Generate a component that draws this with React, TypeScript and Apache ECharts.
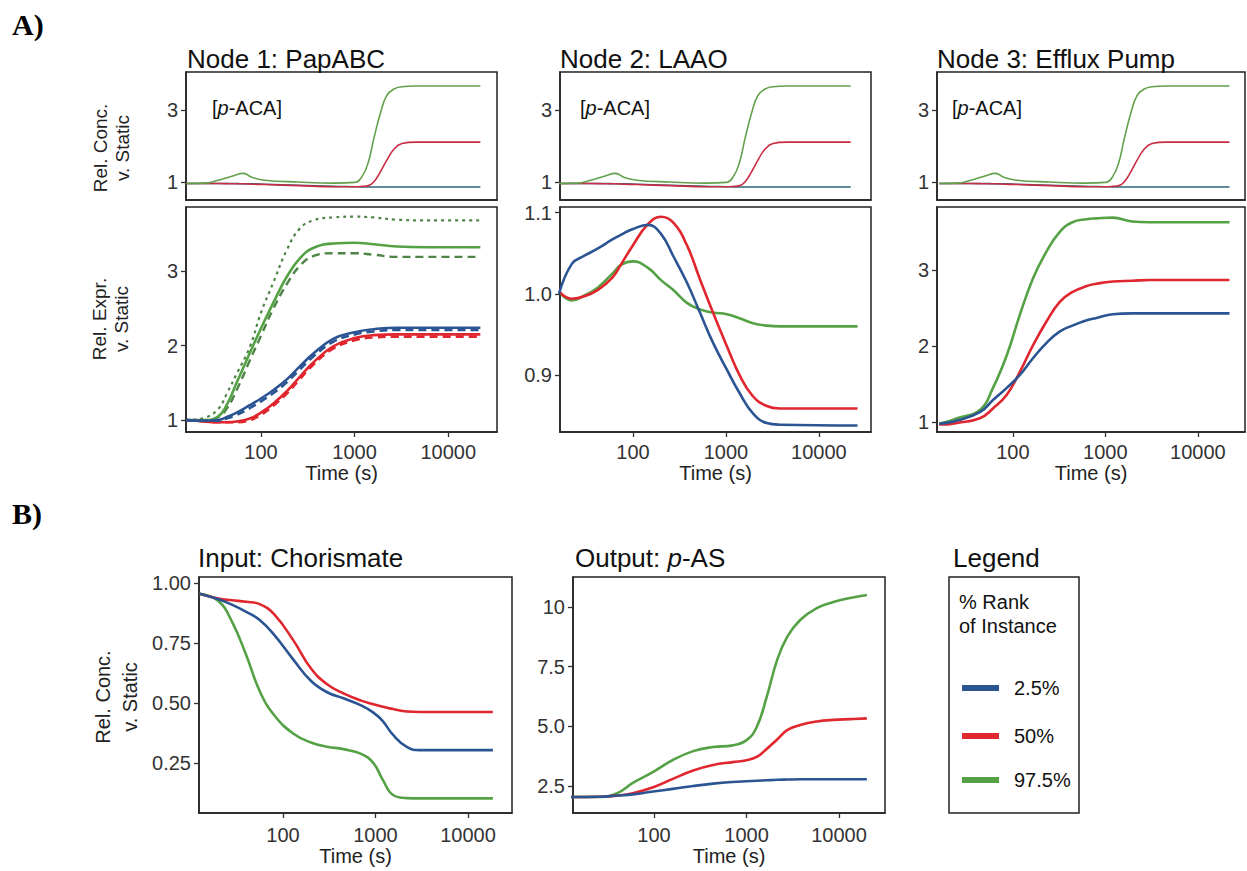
import React, { useEffect, useRef } from "react";
import * as echarts from "echarts";

const FONT = '"Liberation Sans", Arial, Helvetica, sans-serif';
const SERIF = '"Liberation Serif", "Times New Roman", serif';

const BLUE = "#2b5493";
const RED = "#e0262e";
const GREEN = "#55a145";
const GREEN_DASH = "#4f8447";
const TOP_BLUE = "#2f6678";
const TOP_RED = "#c92c45";
const TOP_GREEN = "#62a04c";

// x ticks (seconds)
const timeTicks = [100, 1000, 10000];

// [p-ACA] (same in all three nodes)
const acaTime = [16, 25, 35, 50, 65, 80, 110, 250, 600, 1000, 1200, 1400, 1600, 1900, 2200, 2600, 3200, 4500, 22000];
const acaLow = [0.96, 0.96, 0.96, 0.96, 0.95, 0.95, 0.94, 0.91, 0.88, 0.87, 0.865, 0.86, 0.86, 0.86, 0.86, 0.86, 0.86, 0.86, 0.86];
const acaMid = [0.96, 0.96, 0.96, 0.95, 0.95, 0.94, 0.93, 0.9, 0.87, 0.87, 0.88, 0.9, 1.0, 1.3, 1.6, 1.9, 2.07, 2.11, 2.11];
const acaHigh = [0.96, 0.97, 1.05, 1.17, 1.24, 1.13, 1.05, 1.0, 0.97, 0.99, 1.15, 1.55, 2.2, 2.95, 3.4, 3.58, 3.65, 3.67, 3.67];

// Node 1: PapABC
const papTime = [16, 25, 35, 43, 55, 76, 100, 135, 190, 260, 360, 590, 1000, 1600, 2800, 6000, 22000];
const papLow = [1.0, 0.99, 1.0, 1.04, 1.1, 1.2, 1.29, 1.4, 1.55, 1.72, 1.89, 2.09, 2.18, 2.22, 2.24, 2.24, 2.24];
const papLowDash = [1.0, 0.99, 0.99, 1.02, 1.07, 1.16, 1.25, 1.36, 1.51, 1.68, 1.85, 2.05, 2.15, 2.19, 2.21, 2.21, 2.21];
const papMid = [1.0, 0.98, 0.97, 0.97, 0.98, 1.02, 1.1, 1.22, 1.39, 1.58, 1.77, 1.99, 2.1, 2.14, 2.15, 2.15, 2.15];
const papMidDash = [1.0, 0.98, 0.97, 0.97, 0.97, 1.0, 1.07, 1.19, 1.36, 1.55, 1.74, 1.96, 2.07, 2.11, 2.12, 2.12, 2.12];
const papHigh = [1.0, 1.0, 1.05, 1.2, 1.5, 1.9, 2.23, 2.57, 2.93, 3.17, 3.31, 3.37, 3.38, 3.36, 3.33, 3.32, 3.32];
const papHighDot = [1.0, 1.03, 1.15, 1.35, 1.62, 1.98, 2.44, 2.84, 3.29, 3.57, 3.68, 3.72, 3.73, 3.72, 3.69, 3.68, 3.68];
const papHighDash = [1.0, 1.0, 1.04, 1.15, 1.4, 1.8, 2.13, 2.49, 2.83, 3.07, 3.2, 3.24, 3.24, 3.22, 3.19, 3.19, 3.19];

// Node 2: LAAO
const laaoTime = [16, 22, 30, 42, 60, 75, 100, 145, 200, 270, 380, 525, 725, 1020, 1400, 1950, 2750, 3800, 26000];
const laaoLow = [1.0, 1.037, 1.047, 1.056, 1.067, 1.073, 1.08, 1.085, 1.074, 1.047, 1.014, 0.977, 0.94, 0.907, 0.878, 0.853, 0.841, 0.839, 0.838];
const laaoMid = [1.003, 0.994, 0.997, 1.005, 1.02, 1.037, 1.06, 1.086, 1.095, 1.088, 1.06, 1.018, 0.977, 0.936, 0.9, 0.874, 0.862, 0.859, 0.859];
const laaoHigh = [1.003, 0.992, 0.998, 1.008, 1.025, 1.036, 1.04, 1.032, 1.017, 1.005, 0.989, 0.981, 0.977, 0.975, 0.97, 0.964, 0.961, 0.96, 0.96];

// Node 3: Efflux Pump
const effluxTime = [16, 19, 25, 44, 61, 86, 119, 165, 230, 320, 440, 630, 800, 1200, 1950, 3000, 22000];
const effluxLow = [0.98, 0.99, 1.02, 1.13, 1.29, 1.45, 1.62, 1.84, 2.04, 2.19, 2.27, 2.34, 2.37, 2.42, 2.43, 2.43, 2.43];
const effluxMid = [0.97, 0.97, 0.99, 1.05, 1.18, 1.36, 1.66, 2.01, 2.32, 2.58, 2.71, 2.79, 2.82, 2.85, 2.86, 2.87, 2.87];
const effluxHigh = [0.98, 1.0, 1.05, 1.16, 1.45, 1.88, 2.41, 2.89, 3.24, 3.5, 3.63, 3.67, 3.68, 3.69, 3.64, 3.63, 3.63];

// Input: Chorismate
const chorTime = [12.5, 20, 28, 40, 56, 80, 130, 200, 300, 450, 700, 950, 1200, 1550, 2200, 3000, 18600];
const chorLow = [0.955, 0.932, 0.91, 0.88, 0.846, 0.785, 0.68, 0.593, 0.545, 0.52, 0.49, 0.46, 0.425, 0.367, 0.316, 0.304, 0.304];
const chorMid = [0.955, 0.935, 0.928, 0.922, 0.912, 0.87, 0.76, 0.645, 0.578, 0.54, 0.51, 0.495, 0.485, 0.475, 0.465, 0.463, 0.463];
const chorHigh = [0.955, 0.925, 0.84, 0.7, 0.55, 0.45, 0.372, 0.336, 0.318, 0.308, 0.288, 0.25, 0.18, 0.117, 0.104, 0.103, 0.103];

// Output: p-AS
const pasTime = [12.5, 26, 40, 59, 98, 160, 265, 435, 710, 1000, 1290, 1650, 2140, 2750, 3800, 5750, 8700, 13200, 20000];
const pasLow = [2.04, 2.05, 2.1, 2.15, 2.27, 2.38, 2.5, 2.6, 2.67, 2.7, 2.72, 2.74, 2.76, 2.77, 2.78, 2.78, 2.78, 2.78, 2.78];
const pasMid = [2.04, 2.05, 2.1, 2.2, 2.45, 2.8, 3.15, 3.38, 3.5, 3.58, 3.72, 4.05, 4.45, 4.84, 5.05, 5.2, 5.27, 5.3, 5.33];
const pasHigh = [2.04, 2.04, 2.2, 2.63, 3.09, 3.59, 3.96, 4.13, 4.2, 4.42, 4.97, 6.22, 7.77, 8.74, 9.45, 9.95, 10.2, 10.37, 10.5];

// y tick values
const acaTicks = [1, 3];
const exprTicks = [1, 2, 3];
const laaoTicks = [0.9, 1.0, 1.1];
const chorTicks = [0.25, 0.5, 0.75, 1.0];
const pasTicks = [2.5, 5, 7.5, 10];

const legendLabels = ["2.5%", "50%", "97.5%"];
const legendColors = [BLUE, RED, GREEN];

const pts = (times: number[], vals: number[]) => times.map((t, i) => [Math.log10(t), vals[i]]);
const logTicks = timeTicks.map((t) => Math.log10(t));

function buildOption() {
  const grids = [
    { left: 186, top: 72, width: 311, height: 128 },
    { left: 186, top: 207, width: 311, height: 225 },
    { left: 560, top: 72, width: 311, height: 128 },
    { left: 560, top: 207, width: 311, height: 225 },
    { left: 937, top: 72, width: 308, height: 128 },
    { left: 937, top: 207, width: 308, height: 225 },
    { left: 199, top: 577, width: 313, height: 236 },
    { left: 573, top: 577, width: 312, height: 236 },
  ].map((g) => ({ ...g, show: true, borderColor: "#222", borderWidth: 1.5, backgroundColor: "transparent" }));

  const xAx = (gi: number, min: number, max: number, labeled: boolean, margin = 10, gap = 27) => ({
    type: "value",
    gridIndex: gi,
    min,
    max,
    splitLine: { show: false },
    axisLine: { show: true, onZero: false, lineStyle: { color: "#222", width: 1.5 } },
    axisTick: labeled
      ? { show: true, length: 5, customValues: logTicks, lineStyle: { color: "#333", width: 1.3 } }
      : { show: false },
    axisLabel: labeled
      ? {
          show: true,
          customValues: logTicks,
          formatter: (v: number) => String(Math.round(Math.pow(10, v))),
          fontSize: 20,
          color: "#333",
          margin,
          fontFamily: FONT,
        }
      : { show: false },
    name: labeled ? "Time (s)" : "",
    nameLocation: "middle",
    nameGap: gap,
    nameTextStyle: { fontSize: 20, color: "#222", fontFamily: FONT },
  });

  const yAx = (gi: number, min: number, max: number, ticks: number[], fmt: (v: number) => string) => ({
    type: "value",
    gridIndex: gi,
    min,
    max,
    splitLine: { show: false },
    axisLine: { show: true, onZero: false, lineStyle: { color: "#222", width: 1.5 } },
    axisTick: { show: true, length: 5, customValues: ticks, lineStyle: { color: "#333", width: 1.3 } },
    axisLabel: {
      show: true,
      customValues: ticks,
      formatter: fmt,
      fontSize: 20,
      color: "#333",
      margin: 8,
      fontFamily: FONT,
    },
  });

  const intFmt = (v: number) => String(Math.round(v));
  const xAxis = [
    xAx(0, 1.2, 4.52, false),
    xAx(1, 1.2, 4.52, true),
    xAx(2, 1.215, 4.56, false),
    xAx(3, 1.215, 4.56, true),
    xAx(4, 1.18, 4.51, false),
    xAx(5, 1.18, 4.51, true),
    xAx(6, 1.092, 4.476, true, 12, 31),
    xAx(7, 1.124, 4.497, true, 12, 31),
  ];
  const yAxis = [
    yAx(0, 0.5, 4.06, acaTicks, intFmt),
    yAx(1, 0.84, 3.86, exprTicks, intFmt),
    yAx(2, 0.5, 4.06, acaTicks, intFmt),
    yAx(3, 0.83, 1.107, laaoTicks, (v) => v.toFixed(1)),
    yAx(4, 0.5, 4.06, acaTicks, intFmt),
    yAx(5, 0.87, 3.83, exprTicks, intFmt),
    yAx(6, 0.042, 1.025, chorTicks, (v) => v.toFixed(2)),
    yAx(7, 1.37, 11.25, pasTicks, (v) => (v >= 10 ? String(Math.round(v)) : v.toFixed(1))),
  ];

  const line = (
    name: string,
    idx: number,
    times: number[],
    vals: number[],
    color: string,
    width: number,
    dash?: number[]
  ) => ({
    type: "line",
    name,
    xAxisIndex: idx,
    yAxisIndex: idx,
    data: pts(times, vals),
    showSymbol: false,
    symbol: "none",
    smooth: 0.45,
    clip: true,
    lineStyle: { color, width, type: dash ? dash : "solid", cap: "butt", join: "round" },
    itemStyle: { color },
    z: 3,
  });

  const series: any[] = [];
  [0, 2, 4].forEach((gi) => {
    series.push(line("2.5%", gi, acaTime, acaLow, TOP_BLUE, 1.6));
    series.push(line("50%", gi, acaTime, acaMid, TOP_RED, 1.6));
    series.push(line("97.5%", gi, acaTime, acaHigh, TOP_GREEN, 1.6));
  });
  // Node 1
  series.push(line("97.5%", 1, papTime, papHighDot, GREEN_DASH, 2.2, [3, 4]));
  series.push(line("97.5%", 1, papTime, papHighDash, GREEN_DASH, 2.4, [8, 5]));
  series.push(line("97.5%", 1, papTime, papHigh, GREEN, 2.6));
  series.push(line("50%", 1, papTime, papMidDash, RED, 2.6, [8, 5]));
  series.push(line("50%", 1, papTime, papMid, RED, 2.6));
  series.push(line("2.5%", 1, papTime, papLowDash, BLUE, 2.6, [8, 5]));
  series.push(line("2.5%", 1, papTime, papLow, BLUE, 2.6));
  // Node 2
  series.push(line("97.5%", 3, laaoTime, laaoHigh, GREEN, 2.6));
  series.push(line("50%", 3, laaoTime, laaoMid, RED, 2.6));
  series.push(line("2.5%", 3, laaoTime, laaoLow, BLUE, 2.6));
  // Node 3
  series.push(line("97.5%", 5, effluxTime, effluxHigh, GREEN, 2.6));
  series.push(line("50%", 5, effluxTime, effluxMid, RED, 2.6));
  series.push(line("2.5%", 5, effluxTime, effluxLow, BLUE, 2.6));
  // B
  series.push(line("97.5%", 6, chorTime, chorHigh, GREEN, 2.6));
  series.push(line("50%", 6, chorTime, chorMid, RED, 2.6));
  series.push(line("2.5%", 6, chorTime, chorLow, BLUE, 2.6));
  series.push(line("97.5%", 7, pasTime, pasHigh, GREEN, 2.6));
  series.push(line("50%", 7, pasTime, pasMid, RED, 2.6));
  series.push(line("2.5%", 7, pasTime, pasLow, BLUE, 2.6));

  const txt = (x: number, y: number, text: string, fontSize: number, extra: any = {}) => ({
    type: "text",
    x,
    y,
    z: 10,
    style: {
      text,
      fontSize,
      fontFamily: FONT,
      fill: "#111",
      align: "left",
      verticalAlign: "middle",
      ...extra,
    },
  });
  const rot = (x: number, y: number, text: string, fontSize: number, lh: number) => ({
    type: "text",
    x,
    y,
    rotation: Math.PI / 2,
    z: 10,
    style: {
      text,
      fontSize,
      lineHeight: lh,
      fontFamily: FONT,
      fill: "#222",
      align: "center",
      verticalAlign: "middle",
    },
  });
  const italicRich = (fs: number) => ({ i: { fontStyle: "italic", fontSize: fs, fontFamily: FONT, fill: "#111" } });

  const graphic: any[] = [
    txt(12, 24, "A)", 30, { fontFamily: SERIF, fontWeight: "bold", fill: "#000" }),
    txt(12, 513, "B)", 30, { fontFamily: SERIF, fontWeight: "bold", fill: "#000" }),
    txt(187, 59, "Node 1: PapABC", 26),
    txt(560, 59, "Node 2: LAAO", 26),
    txt(937, 59, "Node 3: Efflux Pump", 26),
    txt(198, 558, "Input: Chorismate", 26),
    txt(575, 558, "Output: {i|p}-AS", 26, { rich: italicRich(26) }),
    txt(953, 558, "Legend", 26),
    txt(212, 108, "[{i|p}-ACA]", 20, { rich: italicRich(20) }),
    txt(580, 108, "[{i|p}-ACA]", 20, { rich: italicRich(20) }),
    txt(952, 108, "[{i|p}-ACA]", 20, { rich: italicRich(20) }),
    rot(111, 148, "Rel. Conc.\nv. Static", 19, 22),
    rot(110, 319, "Rel. Expr.\nv. Static", 19, 22),
    rot(116, 697, "Rel. Conc.\nv. Static", 20, 27),
    {
      type: "rect",
      shape: { x: 949, y: 577, width: 130, height: 236 },
      style: { fill: "none", stroke: "#222", lineWidth: 1.5 },
      z: 10,
    },
    txt(959, 614, "% Rank\nof Instance", 20, { lineHeight: 24 }),
  ];
  const legendY = [688, 736, 780];
  legendLabels.forEach((lab, i) => {
    graphic.push({
      type: "line",
      shape: { x1: 962, y1: legendY[i], x2: 999, y2: legendY[i] },
      style: { stroke: legendColors[i], lineWidth: 6 },
      z: 10,
    });
    graphic.push(txt(1014, legendY[i], lab, 20));
  });

  return {
    animation: false,
    backgroundColor: "#ffffff",
    grid: grids,
    xAxis,
    yAxis,
    series,
    graphic,
  };
}

export default function App() {
  const ref = useRef<HTMLDivElement>(null);
  useEffect(() => {
    document.body.style.margin = "0";
    if (!ref.current) return;
    const chart = echarts.init(ref.current, undefined, { renderer: "svg" });
    chart.setOption(buildOption() as any);
    return () => chart.dispose();
  }, []);
  return <div ref={ref} style={{ width: 1247, height: 871, background: "#fff" }} />;
}
